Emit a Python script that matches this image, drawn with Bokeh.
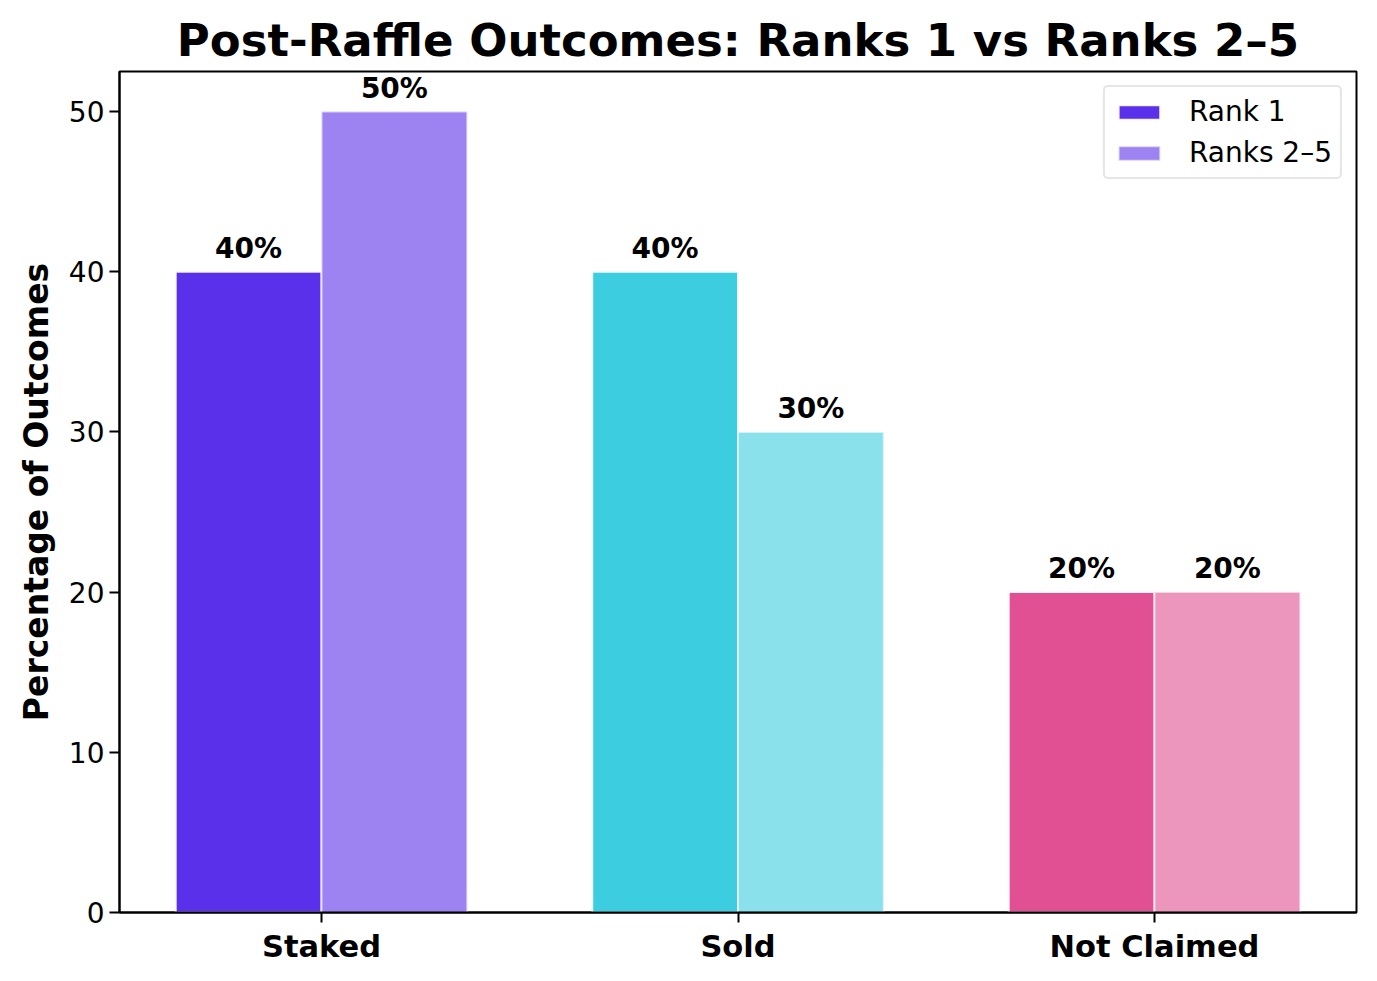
import numpy as np
from bokeh.plotting import figure
from bokeh.models import (ColumnDataSource, Range1d, FixedTicker, Legend, LegendItem)
from bokeh.transform import dodge
from bokeh.core.properties import value
from bokeh.embed import file_html
from bokeh.resources import INLINE

categories = ["Staked", "Sold", "Not Claimed"]
rank1 = [40, 40, 20]
ranks2_5 = [50, 30, 20]
colors = ["#5B30EA", "#3CCDE0", "#E05093"]
series_labels = ["Rank 1", "Ranks 2\u20135"]
y_ticks = [0, 10, 20, 30, 40, 50]

xpos = list(range(len(categories)))
src = ColumnDataSource(dict(
    x=xpos, r1=rank1, r2=ranks2_5, color=colors,
    l1=[f"{v}%" for v in rank1], l2=[f"{v}%" for v in ranks2_5],
))

FONT = "DejaVu Sans"
p = figure(width=1369, height=973, frame_width=1237, frame_height=841,
           output_backend="svg", toolbar_location=None,
           x_range=Range1d(-0.485, 2.485), y_range=Range1d(0, 52.5),
           min_border_left=119, min_border_right=13, min_border_top=71, min_border_bottom=61,
           title="Post-Raffle Outcomes: Ranks 1 vs Ranks 2\u20135")

p.title.text_font = FONT
p.title.text_font_size = "45px"
p.title.text_font_style = "bold"
p.title.align = "center"
p.title.standoff = 10
p.title.text_color = "black"

w = 0.35
r1 = p.vbar(x=dodge("x", -w / 2), top="r1", width=w, source=src,
            fill_color="color", fill_alpha=1.0, line_color="white", line_alpha=0.9, line_width=2)
r2 = p.vbar(x=dodge("x", w / 2), top="r2", width=w, source=src,
            fill_color="color", fill_alpha=0.6, line_color="white", line_alpha=0.6, line_width=2)

for col, lab, off in (("r1", "l1", -w / 2), ("r2", "l2", w / 2)):
    p.text(x=dodge("x", off), y=col, text=lab, source=src,
           text_font=value(FONT), text_font_style="bold", text_font_size="28px",
           text_align="center", text_baseline="bottom", y_offset=-7, text_color="black")

p.grid.visible = False
p.outline_line_color = "black"
p.outline_line_width = 2

p.xaxis.ticker = FixedTicker(ticks=xpos)
p.xaxis.major_label_overrides = {i: c for i, c in enumerate(categories)}
p.xaxis.major_label_text_font = FONT
p.xaxis.major_label_text_font_style = "bold"
p.xaxis.major_label_text_font_size = "30.5px"
p.xaxis.major_label_standoff = 6
p.yaxis.ticker = FixedTicker(ticks=y_ticks)
p.yaxis.major_label_text_font = FONT
p.yaxis.major_label_text_font_size = "28px"
p.yaxis.major_label_standoff = 5
p.yaxis.axis_label = "Percentage of Outcomes"
p.yaxis.axis_label_text_font = FONT
p.yaxis.axis_label_text_font_style = "bold"
p.yaxis.axis_label_text_font_size = "33px"
p.yaxis.axis_label_standoff = 10
for ax in (p.xaxis, p.yaxis):
    ax.axis_line_width = 2
    ax.major_tick_line_width = 2
    ax.major_tick_out = 10
    ax.major_tick_in = 0
    ax.minor_tick_line_color = None
    ax.major_label_text_color = "black"
    ax.axis_label_text_color = "black"

legend = Legend(items=[LegendItem(label=series_labels[0], renderers=[r1], index=0),
                       LegendItem(label=series_labels[1], renderers=[r2], index=0)],
                location="top_right", margin=14)
legend.label_text_font = FONT
legend.label_text_font_size = "28px"
legend.label_text_color = "black"
legend.glyph_width = 52
legend.glyph_height = 18
legend.label_standoff = 24
legend.padding = 8
legend.spacing = 8
legend.border_line_color = "#cccccc"
legend.border_line_width = 2
legend.border_radius = 5
legend.background_fill_alpha = 0.8
p.add_layout(legend)

open("out.html", "w").write(file_html(p, INLINE))
